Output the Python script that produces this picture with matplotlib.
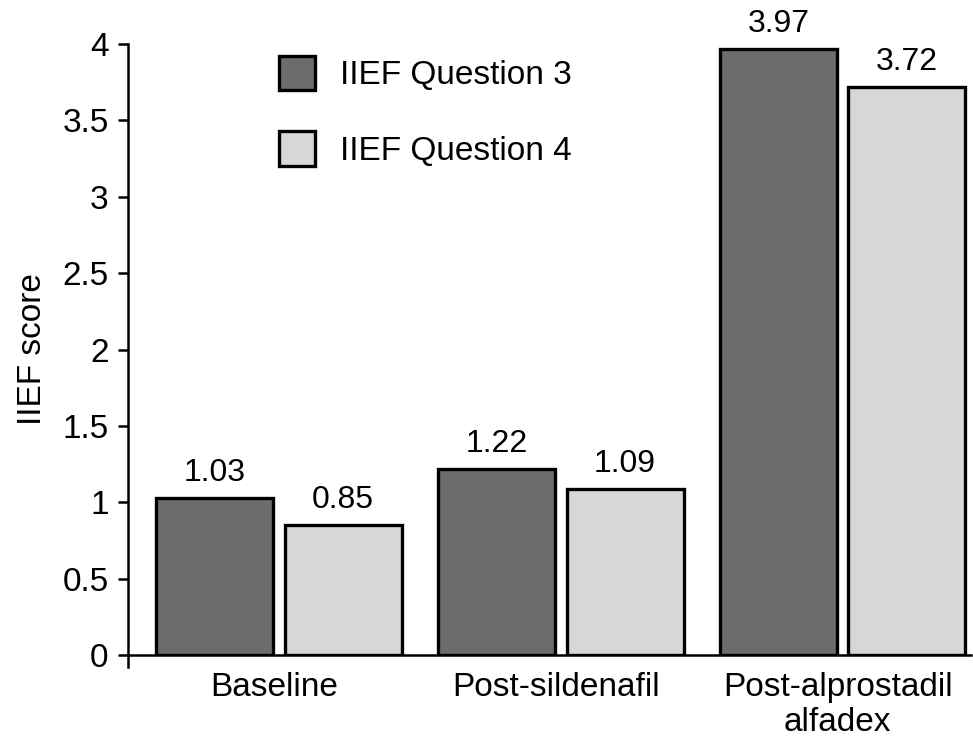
import numpy as np
import matplotlib
matplotlib.use("Agg")
import matplotlib.pyplot as plt

plt.rcParams['font.family'] = ['Liberation Sans', 'DejaVu Sans']

# IIEF scores per treatment stage
categories = ['Baseline', 'Post-sildenafil', 'Post-alprostadil\nalfadex']
q3_scores = [1.03, 1.22, 3.97]
q4_scores = [0.85, 1.09, 3.72]
series_names = ['IIEF Question 3', 'IIEF Question 4']
y_ticks = [0, 0.5, 1, 1.5, 2, 2.5, 3, 3.5, 4]
y_ticklabels = ['0', '0.5', '1', '1.5', '2', '2.5', '3', '3.5', '4']

DARK = '#6c6c6c'
LIGHT = '#d7d7d7'
FS = 24

fig = plt.figure(figsize=(9.73, 7.45), dpi=100)
ax = fig.add_axes([0.1316, 0.1208, 0.866, 0.820])

x = np.arange(len(categories))
offset = 0.228
width = 0.415

b3 = ax.bar(x - offset, q3_scores, width, color=DARK, edgecolor='black',
            linewidth=2.4, label=series_names[0])
b4 = ax.bar(x + offset, q4_scores, width, color=LIGHT, edgecolor='black',
            linewidth=2.4, label=series_names[1])

for bars, vals in ((b3, q3_scores), (b4, q4_scores)):
    for bar, v in zip(bars, vals):
        ax.text(bar.get_x() + bar.get_width() / 2, v + 0.065, f'{v:.2f}',
                ha='center', va='bottom', fontsize=23)

ax.set_xlim(-0.535, 2.454)
ax.set_ylim(0, 4)
ax.set_yticks(y_ticks)
ax.set_yticklabels(y_ticklabels, fontsize=FS)
ax.set_xticks(x - 0.018)
ax.set_xticklabels(categories, fontsize=FS, linespacing=1.2)
ax.tick_params(axis='x', length=0, pad=12)
ax.tick_params(axis='y', direction='out', length=7, width=1.8, pad=7)
ax.set_ylabel('IIEF score', fontsize=FS, labelpad=10)

for side in ('top', 'right'):
    ax.spines[side].set_visible(False)
for side in ('left', 'bottom'):
    ax.spines[side].set_linewidth(1.8)
ax.spines['left'].set_bounds(-0.08, 4)

leg = ax.legend(loc='upper left', bbox_to_anchor=(0.147, 1.024), frameon=False,
                fontsize=FS, handlelength=1.1, handleheight=1.2,
                handletextpad=0.75, labelspacing=1.2, borderpad=0.3)

fig.savefig('out.png', dpi=100)
